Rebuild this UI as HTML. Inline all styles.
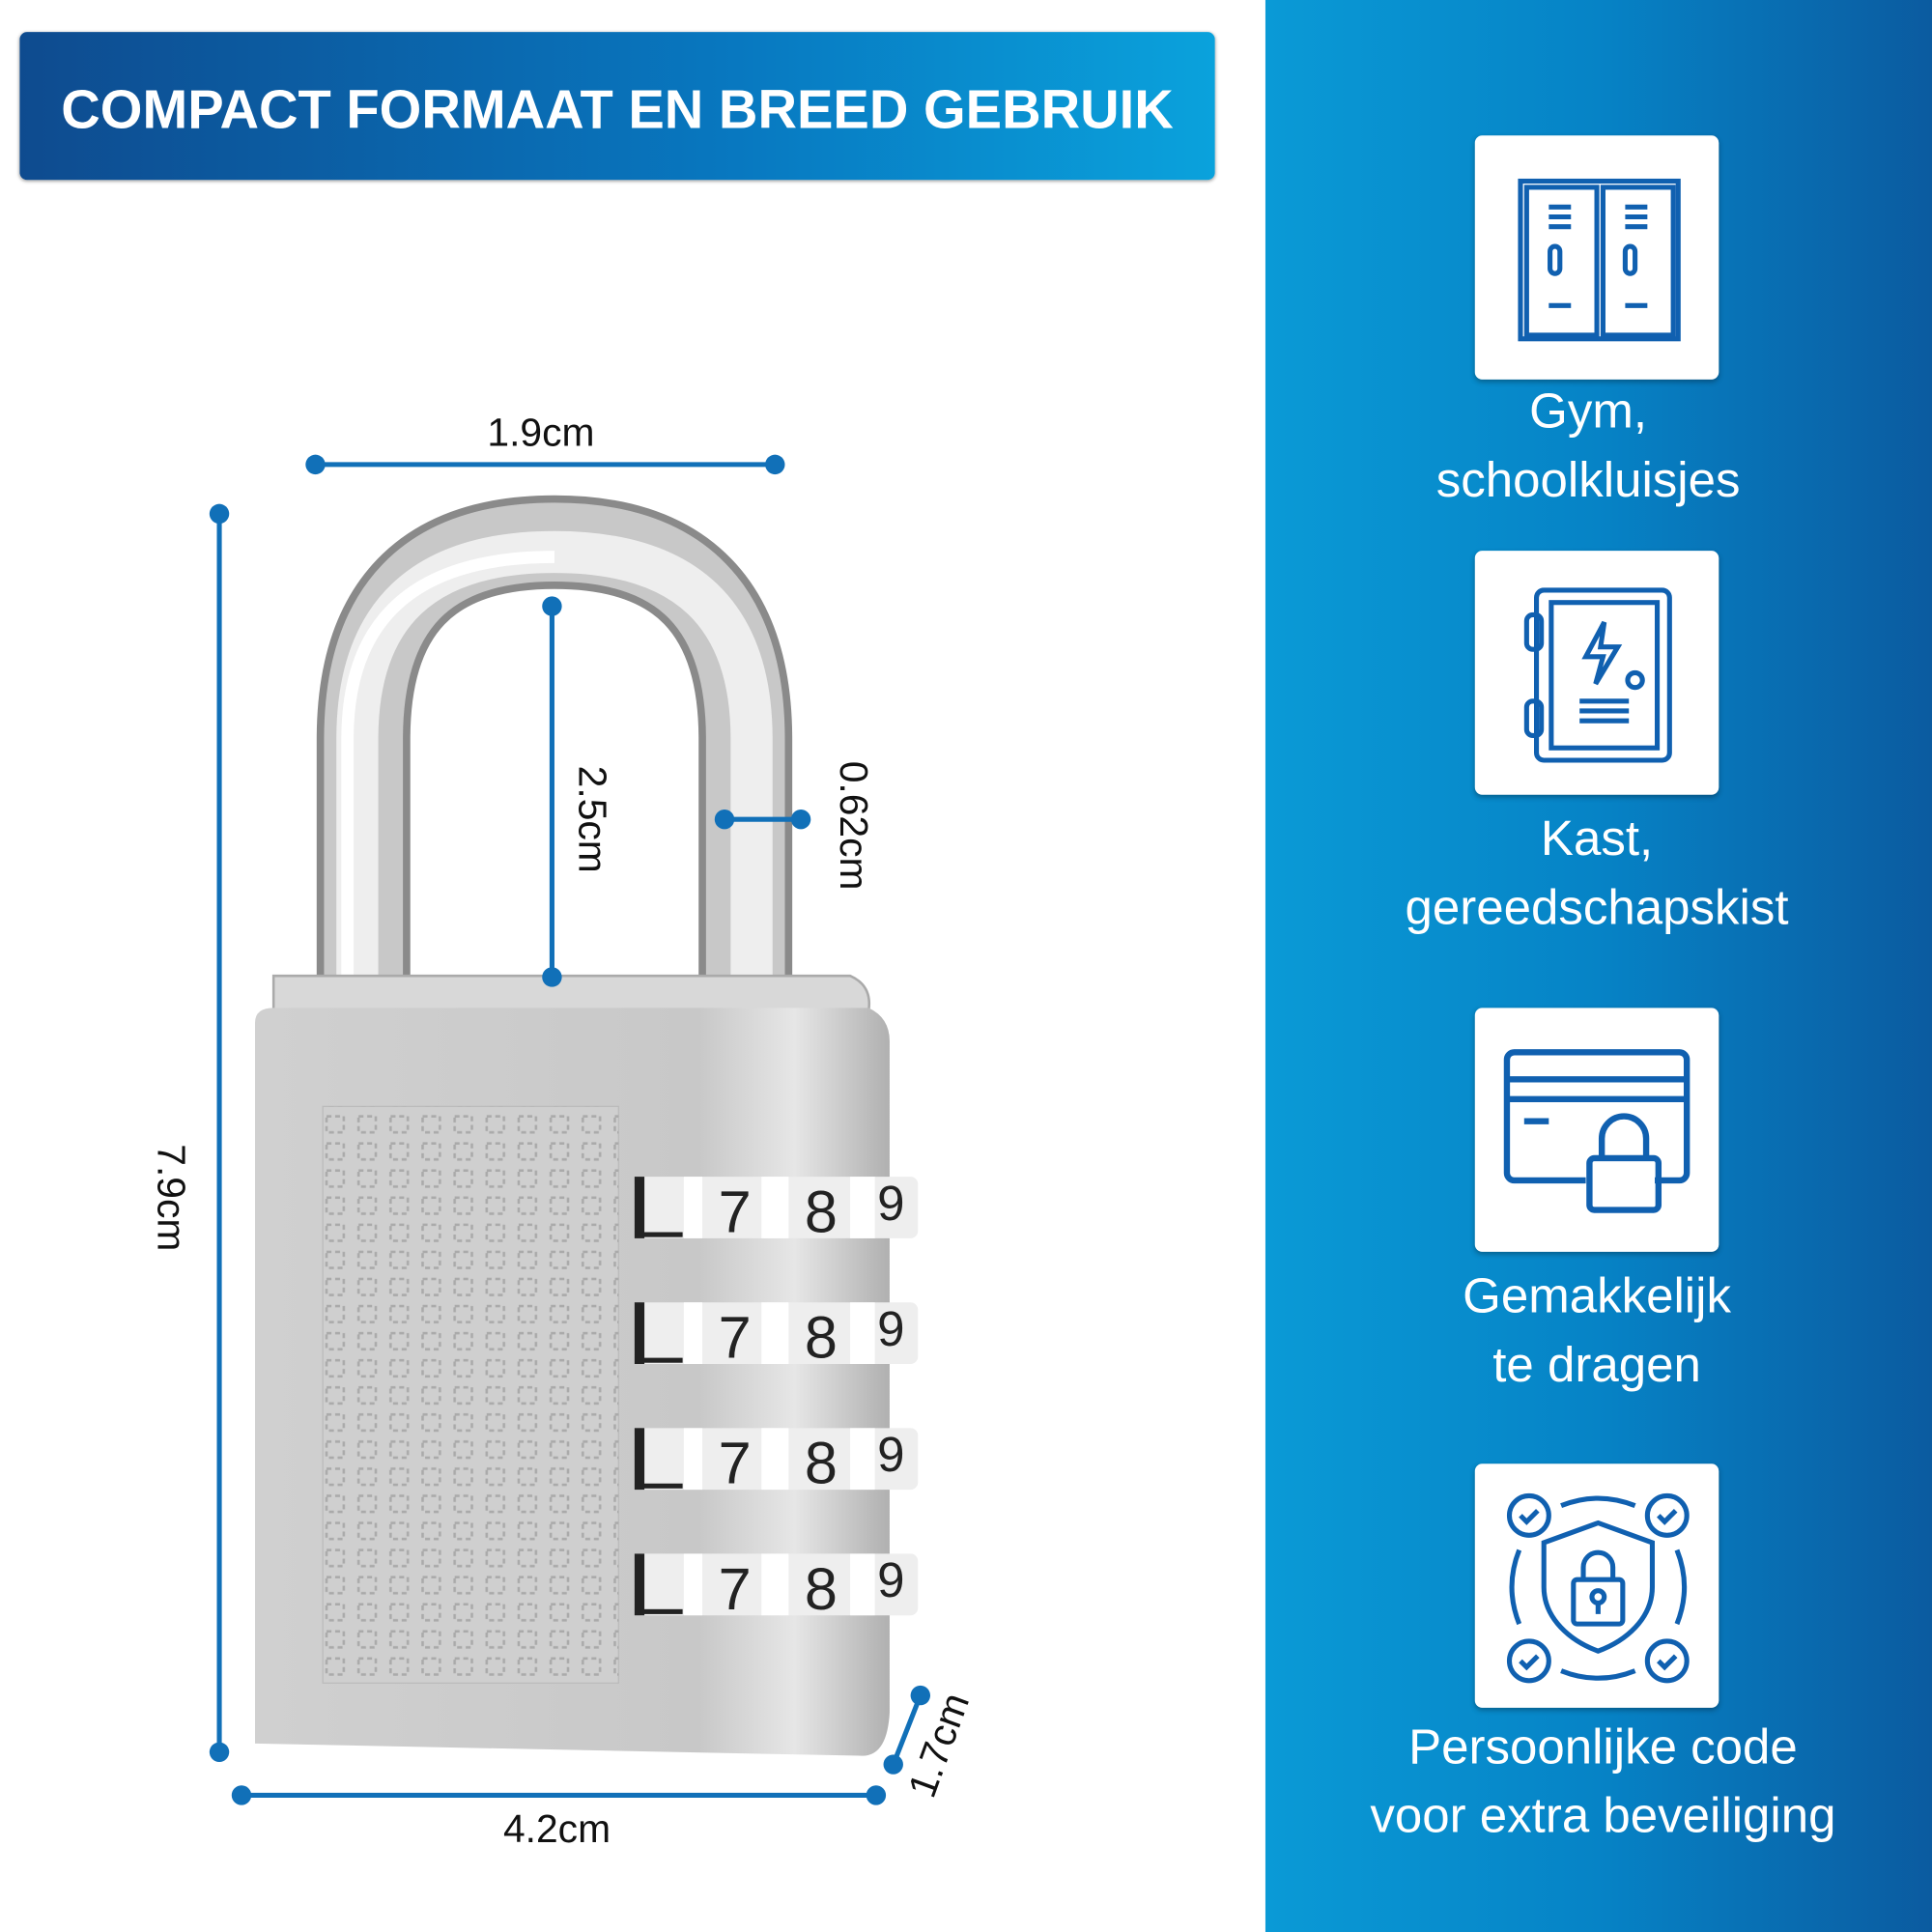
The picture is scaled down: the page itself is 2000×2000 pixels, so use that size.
<!DOCTYPE html>
<html><head><meta charset="utf-8"><style>
html,body{margin:0;padding:0;width:2000px;height:2000px;overflow:hidden;background:#fff}
#w{position:absolute;left:0;top:0;width:1568px;height:1568px;transform:scale(1.27551);transform-origin:0 0;font-family:"Liberation Sans","DejaVu Sans",sans-serif}
.a{position:absolute}
.cap{position:absolute;color:#fff;font-size:40px;text-align:center;line-height:56px;width:500px}
.card{position:absolute;left:1197px;width:198px;height:198px;background:#fff;border-radius:6px;box-shadow:0 2px 4px rgba(0,0,0,.3)}
</style></head><body><div id="w">
<div class="a" style="left:1027px;top:0;width:541px;height:1568px;background:linear-gradient(90deg,#0a9ad6 0%,#0683c6 50%,#0b5ba0 100%)"></div>
<div class="a" style="left:16px;top:26px;width:970px;height:120px;border-radius:6px;background:linear-gradient(90deg,#0e4b8f,#0878c0 60%,#0aa2dc);box-shadow:0 1px 3px rgba(0,0,0,.4)"></div>
<div class="a" style="left:16px;top:60px;width:970px;text-align:center;color:#fff;font-weight:bold;font-size:44px;line-height:60px">COMPACT FORMAAT EN BREED GEBRUIK</div>

<svg class="a" style="left:0;top:0" width="1027" height="1568" viewBox="0 0 1027 1568">
<defs>
<linearGradient id="bd" x1="0" x2="1"><stop offset="0" stop-color="#d0d0d0"/><stop offset=".7" stop-color="#c8c8c8"/><stop offset=".85" stop-color="#e6e6e6"/><stop offset="1" stop-color="#b0b0b0"/></linearGradient>
<pattern id="gp" width="26" height="22" patternUnits="userSpaceOnUse"><rect x="5" y="4" width="14" height="13" fill="none" stroke="#aaa" stroke-width="2" stroke-dasharray="4 3"/></pattern>
</defs>
<path d="M295 800 L295 600 Q295 440 450 440 Q605 440 605 600 L605 800" fill="none" stroke="#8a8a8a" stroke-width="76"/>
<path d="M295 800 L295 600 Q295 440 450 440 Q605 440 605 600 L605 800" fill="none" stroke="#c8c8c8" stroke-width="64"/>
<path d="M290 800 L290 600 Q290 448 450 448 Q610 448 610 600 L610 800" fill="none" stroke="#eee" stroke-width="34"/>
<path d="M282 800 L282 600 Q282 452 450 452" fill="none" stroke="#fff" stroke-width="10"/>
<path d="M222 792 L690 792 Q708 800 705 820 L222 820 Z" fill="#d8d8d8" stroke="#aaa" stroke-width="2"/>
<path d="M207 830 Q207 818 222 818 L705 818 Q722 826 722 845 L722 1390 Q720 1425 700 1425 L207 1415 Z" fill="url(#bd)"/>
<rect x="262" y="898" width="240" height="468" fill="#cfcfcf" stroke="#bbb"/>
<rect x="262" y="898" width="240" height="468" fill="url(#gp)"/>
<g font-size="48" fill="#222" font-family="Liberation Sans">
<g id="d"><rect x="515" y="955" width="230" height="50" fill="#eee" rx="6"/><rect x="515" y="955" width="8" height="50" fill="#222"/><rect x="518" y="1000" width="36" height="4" fill="#222"/><rect x="555" y="955" width="15" height="50" fill="#fff"/><rect x="618" y="955" width="22" height="50" fill="#fff"/><rect x="690" y="955" width="20" height="50" fill="#fff"/>
<text x="583" y="1000">7</text><text x="653" y="1000">8</text><text x="712" y="990" font-size="40">9</text></g>
<use href="#d" y="102"/><use href="#d" y="204"/><use href="#d" y="306"/>
</g>
<g stroke="#1170b8" stroke-width="4" fill="#1170b8">
<line x1="256" y1="377" x2="629" y2="377"/><circle cx="256" cy="377" r="8" stroke="none"/><circle cx="629" cy="377" r="8" stroke="none"/>
<line x1="178" y1="417" x2="178" y2="1422"/><circle cx="178" cy="417" r="8" stroke="none"/><circle cx="178" cy="1422" r="8" stroke="none"/>
<line x1="448" y1="492" x2="448" y2="793"/><circle cx="448" cy="492" r="8" stroke="none"/><circle cx="448" cy="793" r="8" stroke="none"/>
<line x1="588" y1="665" x2="650" y2="665"/><circle cx="588" cy="665" r="8" stroke="none"/><circle cx="650" cy="665" r="8" stroke="none"/>
<line x1="196" y1="1457" x2="711" y2="1457"/><circle cx="196" cy="1457" r="8" stroke="none"/><circle cx="711" cy="1457" r="8" stroke="none"/>
<line x1="747" y1="1376" x2="725" y2="1432"/><circle cx="747" cy="1376" r="8" stroke="none"/><circle cx="725" cy="1432" r="8" stroke="none"/>
</g>
<g font-size="32" fill="#111" font-family="Liberation Sans">
<text x="439" y="362" text-anchor="middle">1.9cm</text>
<text x="452" y="1495" text-anchor="middle">4.2cm</text>
<text transform="translate(128,972) rotate(90)" text-anchor="middle">7.9cm</text>
<text transform="translate(470,665) rotate(90)" text-anchor="middle">2.5cm</text>
<text transform="translate(682,670) rotate(90)" text-anchor="middle">0.62cm</text>
<text transform="translate(772,1420) rotate(-70)" text-anchor="middle">1.7cm</text>
</g>
</svg>

<div class="card" style="top:110px"><svg width="198" height="198" fill="none" stroke="#1060b0" stroke-width="4"><rect x="37" y="37" width="128" height="128"/><rect x="42" y="42" width="57" height="120"/><rect x="104" y="42" width="57" height="120"/><path d="M60 58h18M60 66h18M60 74h18M122 58h18M122 66h18M122 74h18M60 138h18M122 138h18"/><rect x="61" y="90" width="8" height="22" rx="4"/><rect x="122" y="90" width="8" height="22" rx="4"/></svg></div>
<div class="cap" style="left:1039px;top:306px">Gym,<br>schoolkluisjes</div>
<div class="card" style="top:447px"><svg width="198" height="198" fill="none" stroke="#1060b0" stroke-width="4"><rect x="50" y="32" width="108" height="138" rx="6"/><rect x="62" y="42" width="86" height="118"/><rect x="42" y="52" width="12" height="28" rx="5"/><rect x="42" y="122" width="12" height="28" rx="5"/><path d="M105 58l-15 28h14l-6 22 18-30h-14z"/><circle cx="130" cy="105" r="6"/><path d="M85 122h40M85 130h40M85 138h40"/></svg></div>
<div class="cap" style="left:1046px;top:653px">Kast,<br>gereedschapskist</div>
<div class="card" style="top:818px"><svg width="198" height="198" fill="none" stroke="#1060b0" stroke-width="5"><path d="M90 140H32a6 6 0 0 1-6-6V42a6 6 0 0 1 6-6h134a6 6 0 0 1 6 6v92a6 6 0 0 1-6 6h-20"/><path d="M26 58h146M26 74h146M40 92h20"/><rect x="93" y="122" width="56" height="42" rx="4"/><path d="M103 122v-16a18 18 0 0 1 36 0v16"/></svg></div>
<div class="cap" style="left:1046px;top:1024px">Gemakkelijk<br>te dragen</div>
<div class="card" style="top:1188px"><svg width="198" height="198" fill="none" stroke="#1060b0" stroke-width="4"><path d="M100 48l44 16v36c0 26-22 44-44 52-22-8-44-26-44-52V64z"/><rect x="80" y="94" width="40" height="36" rx="3"/><path d="M88 94v-10a12 12 0 0 1 24 0v10"/><circle cx="100" cy="108" r="5"/><path d="M100 112v10"/><circle cx="44" cy="42" r="16"/><circle cx="156" cy="42" r="16"/><circle cx="44" cy="160" r="16"/><circle cx="156" cy="160" r="16"/><path d="M37 42l5 5 9-9M149 42l5 5 9-9M37 160l5 5 9-9M149 160l5 5 9-9M70 34q30-12 60 0M70 168q30 12 60 0M36 70q-12 30 0 60M164 70q12 30 0 60"/></svg></div>
<div class="cap" style="left:1051px;top:1390px;width:500px">Persoonlijke code<br>voor extra beveiliging</div>
</div></body></html>
